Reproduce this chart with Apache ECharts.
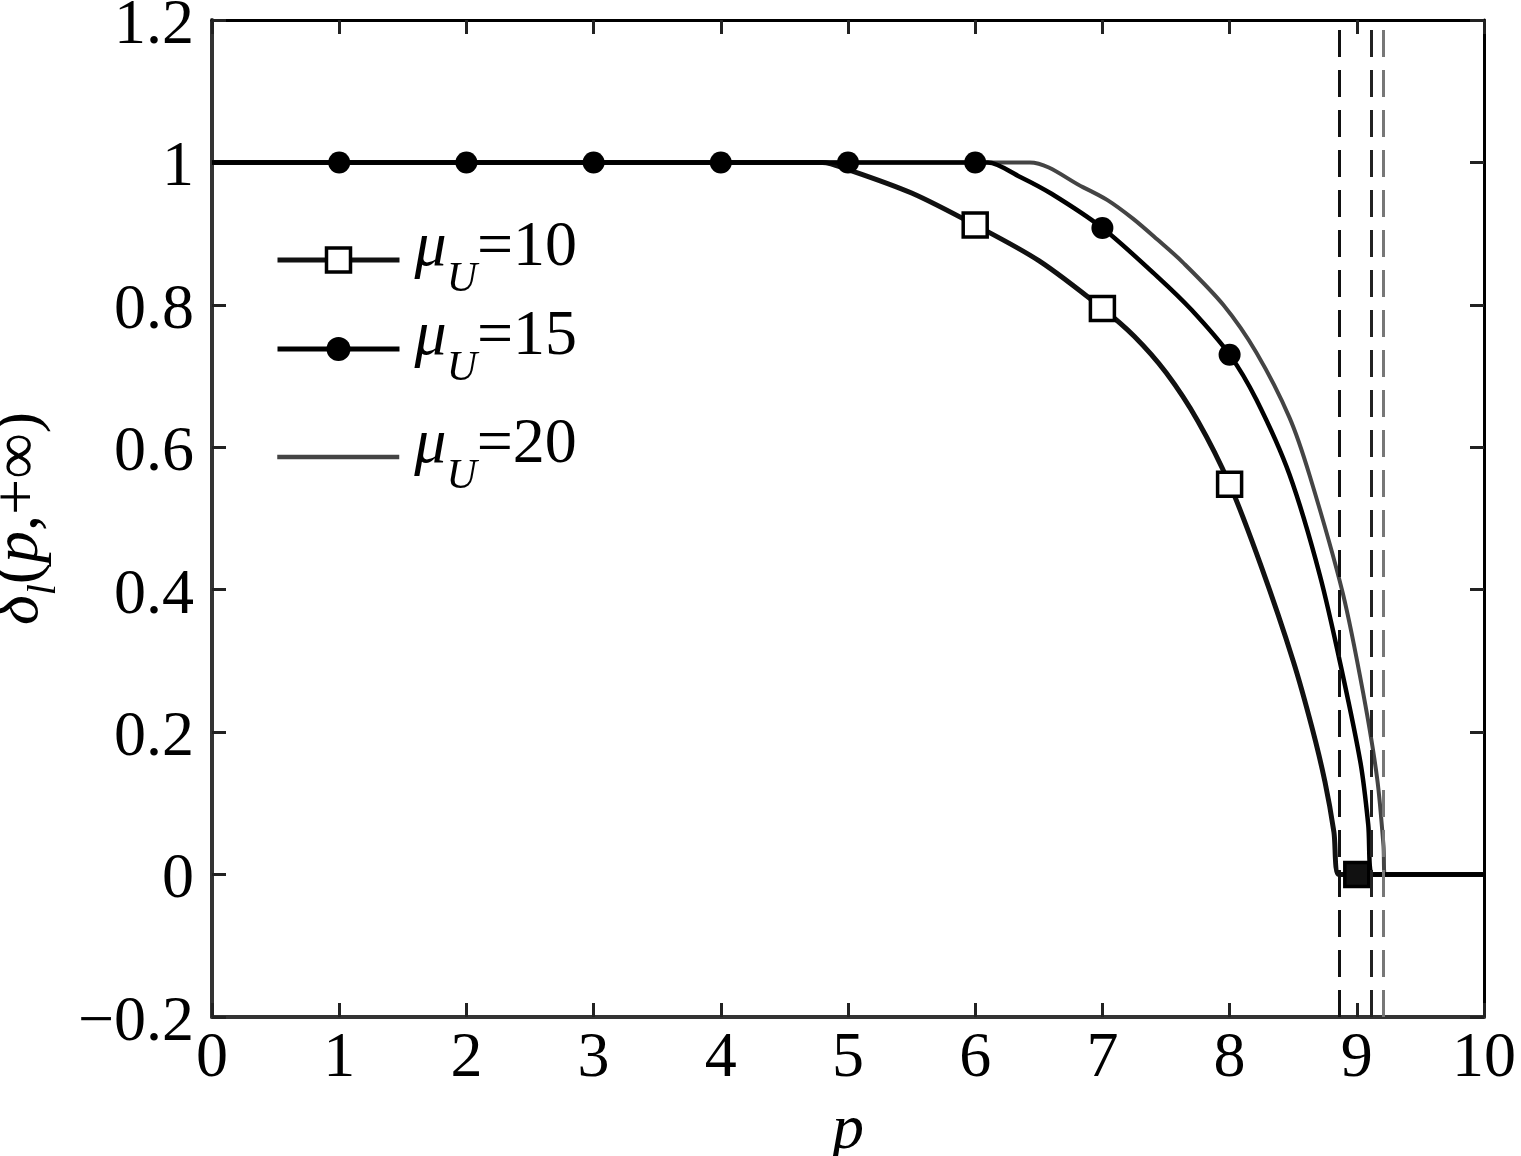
<!DOCTYPE html>
<html><head><meta charset="utf-8">
<script src="https://cdn.jsdelivr.net/npm/echarts@6/dist/echarts.min.js"></script>
<style>html,body{margin:0;padding:0;background:#fff}#c{width:1521px;height:1156px}</style>
</head><body><div id="c"></div>
<script>
// ---- data ----
const xTicks = [0,1,2,3,4,5,6,7,8,9,10];
const yTicks = [-0.2,0,0.2,0.4,0.6,0.8,1,1.2];
const seriesNames = ['μU=10','μU=15','μU=20'];

const p10 = [0,1,2,3,4,4.8,5,5.5,6,6.5,7,7.25,7.5,7.75,8,8.25,8.5,8.65,8.75,8.82,8.86,9,10];
const v10 = [1,1,1,1,1,1,0.99,0.957,0.912,0.862,0.795,0.756,0.705,0.637,0.548,0.432,0.30,0.205,0.13,0.06,0,0,0];
const markers10 = [6,7,8,9];

const p15 = [0,1,2,3,4,5,6,6.1,6.35,6.6,7,7.43,7.7,8,8.21,8.47,8.71,8.89,9.03,9.09,9.12,10];
const v15 = [1,1,1,1,1,1,1,1,0.98,0.956,0.908,0.84,0.793,0.73,0.667,0.562,0.42,0.28,0.156,0.07,0,0];
const markers15 = [1,2,3,4,5,6,7,8];

const p20 = [0,6.43,6.85,7.04,7.24,7.43,7.63,7.95,8.21,8.47,8.63,8.89,9.05,9.16,9.21,9.22,10];
const v20 = [1,1,0.965,0.947,0.921,0.892,0.86,0.80,0.733,0.642,0.56,0.395,0.255,0.135,0.04,0,0];

const boundaryP = [8.86, 9.11, 9.21];

// ---- chart ----
const FONT = 'Liberation Serif';
const boundaryColors = ['#111', '#222', '#777'];

function buildData(ps, vs, markers, sym) {
  return ps.map((p, i) => ({ value: [p, vs[i]], symbol: markers.includes(p) ? sym : 'none' }));
}
const d10 = buildData(p10, v10, markers10, 'rect');
// the square marker at the foot of the curves appears filled in the reference
d10.forEach(it => { if (it.value[0] === 9) it.itemStyle = { color: '#111' }; });
const d15 = buildData(p15, v15, markers15, 'circle');
const d20 = p20.map((p, i) => [p, v20[i]]);

function fmtY(v) {
  const r = Math.round(v * 10) / 10;
  return '{a|' + String(r).replace('-', '−') + '}';
}

const legendRich = {
  i: { fontFamily: FONT, fontStyle: 'italic', fontSize: 64, color: '#000', padding: [0, 0, 24, 10] },
  s: { fontFamily: FONT, fontStyle: 'italic', fontSize: 42, color: '#000', padding: [40, 0, 0, 0] },
  n: { fontFamily: FONT, fontSize: 64, color: '#000', padding: [0, 0, 24, 0] }
};
function legendFmt(name) {
  return '{i|μ}{s|U}{n|=' + name.split('=')[1] + '}';
}
const legendTops = [216, 305, 413];
const legendLineW = [5, 5, 4.5];
const legendLineC = ['#111', '#000', '#444'];

const legends = seriesNames.map((nm, k) => ({
  data: [k === 2 ? { name: nm, itemStyle: { opacity: 0 } } : nm],
  left: 275, top: legendTops[k], orient: 'vertical', padding: 0,
  itemWidth: 122, itemHeight: 30, itemGap: 0, selectedMode: false,
  formatter: legendFmt,
  textStyle: { rich: legendRich },
  lineStyle: { width: legendLineW[k], color: legendLineC[k] },
  itemStyle: k === 0 ? { color: '#fff', borderColor: '#000', borderWidth: 3.5 } : undefined
}));

const axisCommonX = { type: 'value', min: 0, max: 10, interval: 1, splitLine: { show: false } };
const axisCommonY = { type: 'value', min: -0.2, max: 1.2, interval: 0.2, splitLine: { show: false } };
const tick = { show: true, inside: true, length: 14, lineStyle: { color: '#222', width: 3 } };

const option = {
  backgroundColor: '#fff',
  animation: false,
  grid: { left: 212, top: 20, right: 37, bottom: 139, containLabel: false, outerBoundsMode: 'none' },
  legend: legends,
  xAxis: [
    Object.assign({}, axisCommonX, {
      position: 'bottom',
      axisLine: { show: true, onZero: false, lineStyle: { color: '#333', width: 4 } },
      axisTick: tick,
      axisLabel: { fontFamily: FONT, fontSize: 64, color: '#000', margin: 10, formatter: v => String(v) },
      name: 'p', nameLocation: 'middle', nameGap: 82, nameMoveOverlap: false,
      nameTextStyle: { fontFamily: FONT, fontStyle: 'italic', fontSize: 64, color: '#000' }
    }),
    Object.assign({}, axisCommonX, {
      position: 'top',
      axisLine: { show: true, onZero: false, lineStyle: { color: '#000', width: 3 } },
      axisTick: tick, axisLabel: { show: false }
    })
  ],
  yAxis: [
    Object.assign({}, axisCommonY, {
      position: 'left',
      axisLine: { show: true, onZero: false, lineStyle: { color: '#333', width: 4 } },
      axisTick: tick,
      axisLabel: {
        margin: 18, formatter: fmtY,
        rich: { a: { fontFamily: FONT, fontSize: 64, color: '#000', padding: [12, 0, 0, 0] } }
      },
      name: '{i|δ}{s|l}{n|(}{i|p}{n|,+∞)}', nameLocation: 'middle', nameRotate: 90, nameGap: 148,
      nameMoveOverlap: false,
      nameTextStyle: {
        rich: {
          i: { fontFamily: FONT, fontStyle: 'italic', fontSize: 64, color: '#000' },
          s: { fontFamily: FONT, fontStyle: 'italic', fontSize: 40, color: '#000', padding: [48, 0, 0, 0] },
          n: { fontFamily: FONT, fontSize: 64, color: '#000' }
        }
      }
    }),
    Object.assign({}, axisCommonY, {
      position: 'right',
      axisLine: { show: true, onZero: false, lineStyle: { color: '#000', width: 3 } },
      axisTick: tick, axisLabel: { show: false }
    })
  ],
  series: [
    {
      name: seriesNames[2], type: 'line', data: d20, symbol: 'none', showSymbol: false,
      smooth: 0.3,
      lineStyle: { color: '#444', width: 4 }, itemStyle: { color: '#444' }, z: 2,
      markLine: {
        silent: true, symbol: ['none', 'none'], label: { show: false },
        lineStyle: { type: [27, 13], width: 3 },
        data: boundaryP.map((p, i) => ({ xAxis: p, lineStyle: { color: boundaryColors[i], type: [27, 13], width: 3 } }))
      }
    },
    {
      name: seriesNames[0], type: 'line', data: d10, symbol: 'rect', symbolSize: 24,
      showSymbol: true, showAllSymbol: true, smooth: 0.3,
      lineStyle: { color: '#111', width: 5 },
      itemStyle: { color: '#fff', borderColor: '#000', borderWidth: 3.5 }, z: 3
    },
    {
      name: seriesNames[1], type: 'line', data: d15, symbol: 'circle', symbolSize: 22,
      showSymbol: true, showAllSymbol: true, smooth: 0.3,
      lineStyle: { color: '#000', width: 4.5 },
      itemStyle: { color: '#000' }, z: 4
    }
  ]
};

const chart = echarts.init(document.getElementById('c'), null, { renderer: 'canvas' });
chart.setOption(option);
</script>
</body></html>
